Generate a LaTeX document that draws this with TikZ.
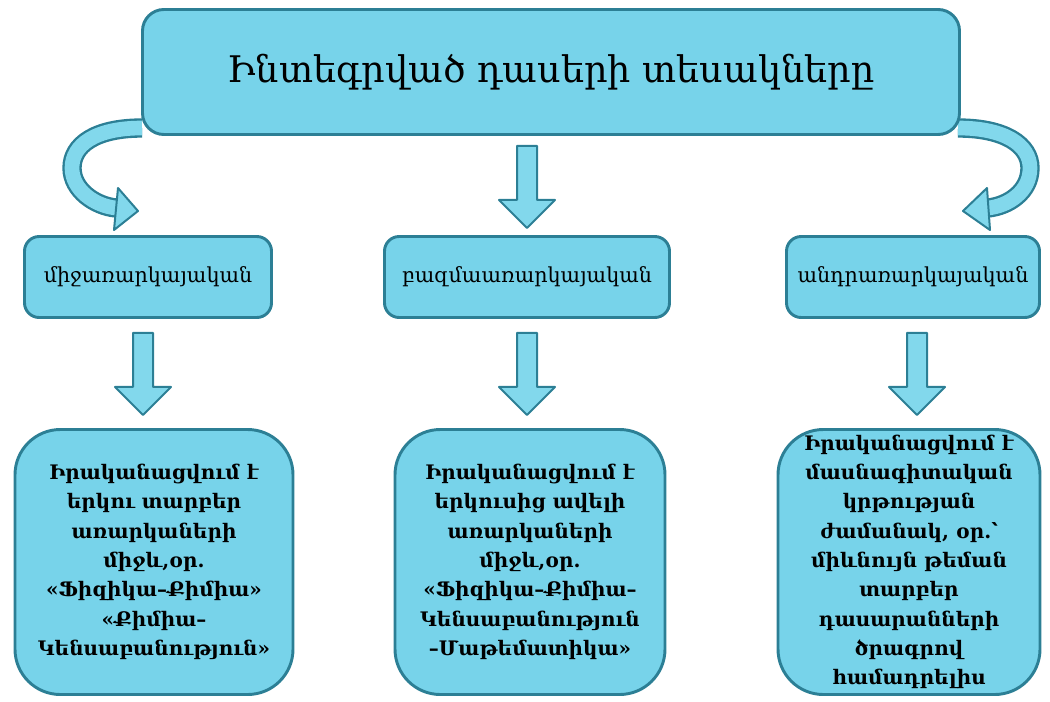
\documentclass[tikz,border=0pt]{standalone}
\usepackage{fontspec}
\setmainfont{DejaVu Serif}
\usetikzlibrary{positioning,calc}

\definecolor{boxfill}{HTML}{77D3EA}
\definecolor{boxline}{HTML}{2C7F95}
\definecolor{arrowfill}{HTML}{82D8EC}

\tikzset{
  kind/.style={draw=boxline, fill=boxfill, line width=2.2pt, rounded corners=11pt, minimum height=60.75pt, font=\fontsize{15.5}{20}\selectfont},
  detail/.style={draw=boxline, fill=boxfill, line width=2.2pt, rounded corners=34pt, minimum height=198.75pt, align=center, font=\bfseries\fontsize{15}{22}\selectfont},
  blockarrow/.style={draw=boxline, fill=arrowfill, line width=1.5pt, line join=round},
  downblock/.pic={\draw[blockarrow] (-10,0) -- (-10,54) -- (-28,54) -- (0,82) -- (28,54) -- (10,54) -- (10,0) -- cycle;}
}

\begin{document}
\begin{tikzpicture}[x=0.75pt, y=-0.75pt]
    \useasboundingbox (0,0) rectangle (1050,701);

    % curved arrows first, the title box covers their start
    \coordinate (lstart) at (142,128);
    \coordinate (lend) at (116,208);
    \draw[boxline, line width=14.5pt] (lstart) .. controls (95,128) and (72,145) .. (72,168) .. controls (72,190) and (95,206) .. (lend); % left shaft
    \draw[arrowfill, line width=11pt] (lstart) .. controls (95,128) and (72,145) .. (72,168) .. controls (72,190) and (95,206) .. (lend);
    \draw[blockarrow] (118,188) -- (138,211) -- (114,230) -- cycle; % left head

    \coordinate (rstart) at (958,128);
    \coordinate (rend) at (988,208);
    \draw[boxline, line width=14.5pt] (rstart) .. controls (1005,128) and (1030,145) .. (1030,168) .. controls (1030,192) and (1008,206) .. (rend); % right shaft
    \draw[arrowfill, line width=11pt] (rstart) .. controls (1005,128) and (1030,145) .. (1030,168) .. controls (1030,192) and (1008,206) .. (rend);
    \draw[blockarrow] (987,188) -- (963,211) -- (990,230) -- cycle; % right head

    \node[kind, rounded corners=16pt, minimum width=612.75pt, minimum height=93.75pt, font=\fontsize{27.5}{32}\selectfont] (title) at (551,72) {Ինտեգրված դասերի տեսակները};

    \node[kind, minimum width=185.25pt] (inter) at (148,277) {միջառարկայական};
    \node[kind, minimum width=213.75pt] (multi) at (527,277) {բազմաառարկայական};
    \node[kind, minimum width=189.75pt] (trans) at (913,277) {անդրառարկայական};

    \node[detail, minimum width=208.5pt] (interex) at (154,562) {Իրականացվում է\\երկու տարբեր\\առարկաների\\միջև,օր.\\«Ֆիզիկա–Քիմիա»\\«Քիմիա–\\Կենսաբանություն»};
    \node[detail, minimum width=202.5pt] (multiex) at (530,562) {Իրականացվում է\\երկուսից ավելի\\առարկաների\\միջև,օր.\\«Ֆիզիկա–Քիմիա–\\Կենսաբանություն\\–Մաթեմատիկա»};
    \node[detail, minimum width=196.5pt] (transex) at (909,562) {Իրականացվում է\\մասնագիտական\\կրթության\\ժամանակ, օր.՝\\միևնույն թեման\\տարբեր\\դասարանների\\ծրագրով\\համադրելիս};

    \pic at ($(multi.north |- title.south)+(0,10)$) {downblock}; % title to middle
    \pic at ($(inter.south)+(-5,14)$) {downblock};
    \pic at ($(multi.south)+(0,14)$) {downblock};
    \pic at ($(trans.south)+(4,14)$) {downblock};
\end{tikzpicture}
\end{document}
